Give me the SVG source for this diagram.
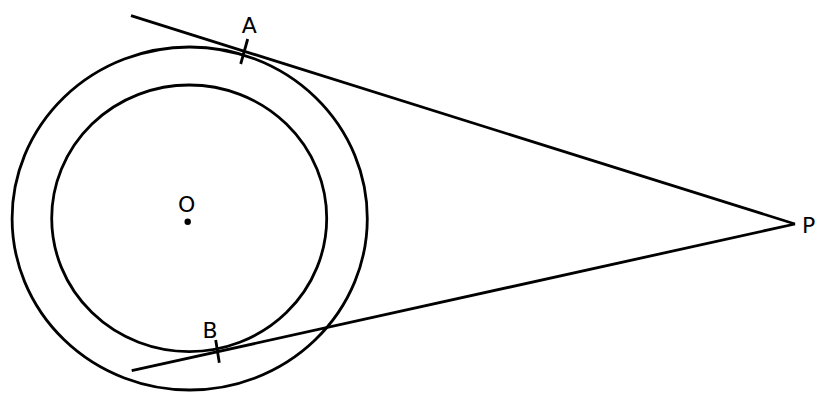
<svg xmlns="http://www.w3.org/2000/svg" width="828" height="402" viewBox="0 0 828 402">
<style>
.s{fill:none;stroke:#000;stroke-width:2.8;stroke-linecap:butt}
.t{font-family:"DejaVu Sans","Liberation Sans",sans-serif;font-size:22px;fill:#000}
</style>
<rect width="828" height="402" fill="#fff"/>
<g id="outer-circle"><ellipse class="s" cx="189.7" cy="218.5" rx="177.6" ry="171.5"/></g>
<g id="inner-circle"><ellipse class="s" cx="189.2" cy="218.3" rx="137.5" ry="133.3"/></g>
<g id="connectors">
<line class="s" x1="131" y1="15.7" x2="795" y2="224"/>
<line class="s" x1="131.7" y1="370.7" x2="795" y2="224"/>
<line class="s" x1="247.7" y1="39" x2="240.7" y2="64"/>
<line class="s" x1="215.7" y1="340" x2="219.3" y2="362.7"/>
</g>
<g id="O"><circle cx="187.7" cy="221.7" r="3.2" fill="#000"/><text class="t" x="186.7" y="211.7" text-anchor="middle">O</text></g>
<g id="A"><text class="t" x="249.2" y="33" text-anchor="middle">A</text></g>
<g id="B"><text class="t" x="210" y="337.5" text-anchor="middle">B</text></g>
<g id="P"><text class="t" x="802" y="232.7">P</text></g>
</svg>
